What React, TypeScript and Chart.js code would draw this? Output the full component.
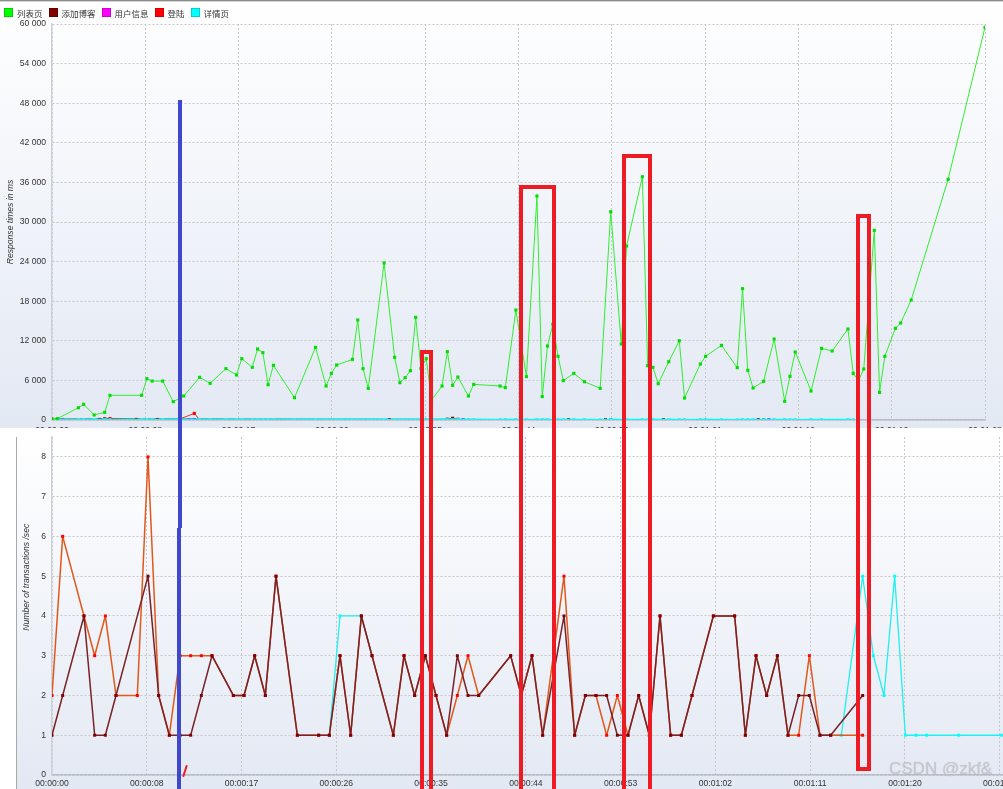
import React, { useEffect, useRef } from 'react';
import { Chart, registerables } from 'chart.js';

Chart.register(...registerables);

// ---------------- Legend ----------------
const SERIES_NAMES = ['列表页', '添加博客', '用户信息', '登陆', '详情页'];
const SERIES_COLORS = ['#00ff00', '#800000', '#ff00ff', '#ff0000', '#00ffff'];

// ---------------- Top chart: response times over time ----------------
const RT_Y_TITLE = 'Response times in ms';
const RT_Y_TICKS = [0, 6000, 12000, 18000, 24000, 30000, 36000, 42000, 48000, 54000, 60000];
const RT_X_STEP = 8.85;
const RT_X_MAX = 88.5;
const RT_X_LABELS = ['00:00:00', '00:00:08', '00:00:17', '00:00:26', '00:00:35', '00:00:44', '00:00:53', '00:01:01', '00:01:10', '00:01:19', '00:01:28'];

// [seconds, ms]
const LIST_RT: [number, number][] = [
  [0, 100], [0.5, 200], [2.5, 1860], [3, 2380], [4, 760], [5, 1160], [5.5, 3740], [8.5, 3740], [9, 6260], [9.5, 5900],
  [10.5, 5900], [11.5, 2780], [12.5, 3640], [14, 6470], [15, 5550], [16.5, 7780], [17.5, 6820], [18, 9290], [19, 7980], [19.5, 10760],
  [20, 10200], [20.5, 5350], [21, 8290], [23, 3380], [25, 11010], [26, 5150], [26.5, 7070], [27, 8330], [28.5, 9190], [29, 15150],
  [29.5, 7780], [30, 4800], [31.5, 23790], [32.5, 9500], [33, 5650], [33.5, 6410], [34, 7470], [34.5, 15560], [35, 7800], [35.5, 9290],
  [36, 3030], [37, 5150], [37.5, 10350], [38, 5250], [38.5, 6510], [39.5, 3640], [40, 5400], [42.5, 5150], [43, 4900], [44, 16660],
  [45, 6570], [46, 33940], [46.5, 3540], [47, 11210], [47.5, 14500], [48, 9650], [48.5, 5960], [49.5, 7070], [50.5, 5800], [52, 4800],
  [53, 31560], [54, 11510], [54.5, 26360], [56, 36860], [56.5, 8230], [57, 7980], [57.5, 5500], [58.5, 8830], [59.5, 12010], [60, 3330],
  [61.5, 8480], [62, 9650], [63.5, 11310], [65, 7930], [65.5, 19900], [66, 7530], [66.5, 4850], [67.5, 5860], [68.5, 12270], [69.5, 2830],
  [70, 6620], [70.5, 10300], [72, 4390], [73, 10860], [74, 10450], [75.5, 13790], [76, 7070], [76.5, 5960], [77, 7730], [78, 28740],
  [78.5, 4190], [79, 9650], [80, 13890], [80.5, 14700], [81.5, 18180], [85, 36460], [88.5, 59490],
];
const BLOG_RT: [number, number][] = [
  [0.5, 120], [5, 180], [37.5, 120], [38, 260], [38.5, 100], [53, 60], [67.5, 60],
];
const USER_RT: [number, number][] = [
  [1, 40], [13, 60], [13.5, 60], [39, 50], [68, 50],
];
const LOGIN_RT: [number, number][] = [
  [0, 150], [4.5, 90], [5.5, 220], [8, 90], [10, 80], [12, 80], [13.5, 1000], [14, 60], [32, 70], [49, 70], [52.5, 70], [58, 70], [67, 70],
];
const DETAIL_RT: [number, number][] = [
  [0, 60], [0.5, 50], [2.5, 40], [3, 50], [4, 60], [5, 50], [5.5, 40], [8.5, 50], [9, 60], [9.5, 40],
  [10.5, 50], [12, 60], [14, 50], [15, 40], [16.5, 50], [17.5, 60], [18, 50], [19, 40], [19.5, 50], [20, 60],
  [20.5, 50], [21, 40], [23, 50], [25, 60], [26, 50], [26.5, 40], [27, 50], [27.5, 60], [28.5, 50], [29, 40],
  [29.5, 50], [30, 60], [31.5, 50], [32.5, 40], [33, 50], [33.5, 60], [34, 50], [34.5, 40], [35.5, 50], [37, 60],
  [37.5, 50], [38, 40], [38.5, 50], [39.5, 60], [40, 50], [42.5, 40], [43, 50], [44, 60], [44.5, 50], [45, 40],
  [46, 50], [46.5, 60], [47, 50], [48, 40], [48.5, 50], [49.5, 60], [50.5, 50], [52, 40], [53, 50], [54.5, 60],
  [56, 50], [56.5, 40], [57, 50], [58.5, 60], [59.5, 50], [60, 40], [61.5, 50], [62, 60], [63.5, 50], [65, 40],
  [65.5, 50], [66, 60], [66.5, 50], [67.5, 40], [68.5, 50], [69.5, 60], [70, 50], [70.5, 40], [72, 50], [73, 60],
  [75.5, 50], [76, 40],
];

// ---------------- Bottom chart: transactions per second ----------------
const TPS_Y_TITLE = 'Number of transactions /sec';
const TPS_Y_TICKS = [0, 1, 2, 3, 4, 5, 6, 7, 8];
const TPS_Y_MAX = 8.5;
const TPS_X_STEP = 8.885;
const TPS_X_MAX = 90;
const TPS_X_LABELS = ['00:00:00', '00:00:08', '00:00:17', '00:00:26', '00:00:35', '00:00:44', '00:00:53', '00:01:02', '00:01:11', '00:01:20', '00:01:28'];

// [seconds, transactions/sec]
const TPS_LOGIN: [number, number][] = [
  [0, 2], [1, 6], [3, 4], [4, 3], [5, 4], [6, 2], [8, 2], [9, 8], [10, 2], [11, 1],
  [12, 3], [13, 3], [14, 3], [15, 3], [17, 2], [18, 2], [19, 3], [20, 2], [21, 5], [23, 1],
  [25, 1], [26, 1], [27, 3], [28, 1], [29, 4], [30, 3], [32, 1], [33, 3], [34, 2], [35, 3],
  [36, 2], [37, 1], [38, 2], [39, 3], [40, 2], [43, 3], [44, 2], [45, 3], [46, 1], [48, 5],
  [49, 1], [50, 2], [51, 2], [52, 1], [53, 2], [54, 1], [55, 2], [56, 1], [57, 4], [58, 1],
  [59, 1], [60, 2], [62, 4], [64, 4], [65, 1], [66, 3], [67, 2], [68, 3], [69, 1], [70, 1],
  [71, 3], [72, 1], [73, 1], [76, 1],
];
const TPS_BLOG: [number, number][] = [
  [0, 1], [1, 2], [3, 4], [4, 1], [5, 1], [6, 2], [9, 5], [10, 2], [11, 1], [12, 1],
  [13, 1], [14, 2], [15, 3], [17, 2], [18, 2], [19, 3], [20, 2], [21, 5], [23, 1], [25, 1],
  [26, 1], [27, 3], [28, 1], [29, 4], [30, 3], [32, 1], [33, 3], [34, 2], [35, 3], [36, 2],
  [37, 1], [38, 3], [39, 2], [40, 2], [43, 3], [44, 2], [45, 3], [46, 1], [48, 4], [49, 1],
  [50, 2], [51, 2], [52, 2], [53, 1], [54, 1], [55, 2], [56, 1], [57, 4], [58, 1], [59, 1],
  [60, 2], [62, 4], [64, 4], [65, 1], [66, 3], [67, 2], [68, 3], [69, 1], [70, 2], [71, 2],
  [72, 1], [73, 1], [76, 2],
];
const TPS_DETAIL: [number, number | null][] = [
  [26, 1], [27, 4], [29, 4], [30, 3], [50, null],
  [72, 1], [73, 1], [74, 1], [76, 5], [77, 3], [78, 2], [79, 5], [80, 1], [81, 1], [82, 1], [85, 1], [89, 1],
];

// ---------------- helpers ----------------
const FONT_FAMILY = '"Liberation Sans", Arial, "Noto Sans CJK SC", sans-serif';
const TICK_FONT = { family: FONT_FAMILY, size: 8.6 };
const TICK_COLOR = '#333333';
const GRID_COLOR = '#c8c8cc';

const toXY = (pts: [number, number | null][]) => pts.map(([x, y]) => ({ x, y }));
const fmtThousands = (v: number) => String(v).replace(/\B(?=(\d{3})+(?!\d))/g, ' ');

const bgPlugin = {
  id: 'panelBg',
  beforeDraw(chart: any) {
    const { ctx, width, height } = chart;
    const g = ctx.createLinearGradient(0, 0, 0, height);
    g.addColorStop(0, '#ffffff');
    g.addColorStop(1, '#e2e8f3');
    ctx.save();
    ctx.fillStyle = g;
    ctx.fillRect(0, 0, width, height);
    ctx.restore();
  },
};

const tpsTitlePlugin = {
  id: 'tpsTitle',
  afterDraw(chart: any) {
    const { ctx, chartArea } = chart;
    ctx.save();
    ctx.translate(10, chartArea.top + (chartArea.bottom - chartArea.top) * 0.415);
    ctx.rotate(-Math.PI / 2);
    ctx.font = `italic 8.6px ${FONT_FAMILY}`;
    ctx.fillStyle = TICK_COLOR;
    ctx.textAlign = 'center';
    ctx.textBaseline = 'middle';
    ctx.fillText(TPS_Y_TITLE, 0, 0);
    ctx.restore();
  },
};

function lineDs(label: string, pts: [number, number | null][], line: string, point: string, width: number, radius: number) {
  return {
    label,
    data: toXY(pts),
    borderColor: line,
    backgroundColor: point,
    pointBackgroundColor: point,
    pointBorderWidth: 0,
    pointStyle: 'rect',
    pointRadius: radius,
    borderWidth: width,
    borderJoinStyle: 'round',
    borderCapStyle: 'round',
    fill: false,
    tension: 0,
    spanGaps: false,
  };
}

export default function App() {
  const topRef = useRef<HTMLCanvasElement | null>(null);
  const botRef = useRef<HTMLCanvasElement | null>(null);

  useEffect(() => {
    const top = new Chart(topRef.current as HTMLCanvasElement, {
      type: 'line',
      data: {
        datasets: [
          lineDs(SERIES_NAMES[0], LIST_RT, '#2ef02e', '#00dd00', 1, 2.2),
          lineDs(SERIES_NAMES[4], DETAIL_RT, SERIES_COLORS[4], '#40e8f0', 1.6, 2.2),
          lineDs(SERIES_NAMES[3], LOGIN_RT, '#f03030', SERIES_COLORS[3], 1, 2.2),
          lineDs(SERIES_NAMES[2], USER_RT, SERIES_COLORS[2], SERIES_COLORS[2], 1, 2.2),
          lineDs(SERIES_NAMES[1], BLOG_RT, '#806060', SERIES_COLORS[1], 1, 2.2),
        ] as any,
      },
      options: {
        animation: false,
        responsive: false,
        maintainAspectRatio: false,
        layout: { padding: { top: 24, right: 18, left: 0, bottom: 0 } },
        plugins: { legend: { display: false }, tooltip: { enabled: false } },
        scales: {
          x: {
            type: 'linear',
            min: 0,
            max: RT_X_MAX,
            afterBuildTicks: (s: any) => { s.ticks = RT_X_LABELS.map((_, i) => ({ value: i * RT_X_STEP })); },
            afterFit: (s: any) => { s.height = 20; s.paddingLeft = 0; s.paddingRight = 0; },
            ticks: { autoSkip: false, maxRotation: 0, minRotation: 0, padding: 5, font: TICK_FONT, color: TICK_COLOR, callback: (_v: any, i: number) => RT_X_LABELS[i] },
            grid: { color: GRID_COLOR, drawTicks: false, lineWidth: 1 },
            border: { display: true, color: '#b8bcc6', width: 1.5, dash: [2, 2] },
          },
          y: {
            type: 'linear',
            min: 0,
            max: 60000,
            afterBuildTicks: (s: any) => { s.ticks = RT_Y_TICKS.map((v) => ({ value: v })); },
            afterFit: (s: any) => { s.width = 52; s.paddingTop = 0; s.paddingBottom = 0; },
            ticks: { padding: 6, font: TICK_FONT, color: TICK_COLOR, callback: (v: any) => fmtThousands(Number(v)) },
            title: { display: true, text: RT_Y_TITLE, color: TICK_COLOR, font: { family: FONT_FAMILY, size: 8.6, style: 'italic' }, padding: { top: 5, bottom: 0 } },
            grid: { color: GRID_COLOR, drawTicks: false, lineWidth: 1 },
            border: { display: true, color: '#cdd1da', width: 1.5, dash: [2, 2] },
          },
        },
      } as any,
      plugins: [bgPlugin] as any,
    });

    const bot = new Chart(botRef.current as HTMLCanvasElement, {
      type: 'line',
      data: {
        datasets: [
          lineDs(SERIES_NAMES[1], TPS_BLOG, '#7a2228', SERIES_COLORS[1], 1.5, 2.1),
          lineDs(SERIES_NAMES[3], TPS_LOGIN, '#e2581a', SERIES_COLORS[3], 1.5, 2.1),
          lineDs(SERIES_NAMES[4], TPS_DETAIL, '#20f0f0', SERIES_COLORS[4], 1.3, 2.1),
        ] as any,
      },
      options: {
        animation: false,
        responsive: false,
        maintainAspectRatio: false,
        layout: { padding: { top: 5, right: 5, left: 0, bottom: 0 } },
        plugins: { legend: { display: false }, tooltip: { enabled: false } },
        scales: {
          x: {
            type: 'linear',
            min: 0,
            max: TPS_X_MAX,
            afterBuildTicks: (s: any) => { s.ticks = TPS_X_LABELS.map((_, i) => ({ value: i * TPS_X_STEP })); },
            afterFit: (s: any) => { s.height = 25; s.paddingLeft = 0; s.paddingRight = 0; },
            ticks: { autoSkip: false, maxRotation: 0, minRotation: 0, padding: 3, font: TICK_FONT, color: TICK_COLOR, callback: (_v: any, i: number) => TPS_X_LABELS[i] },
            grid: { color: GRID_COLOR, drawTicks: false, lineWidth: 1 },
            border: { display: true, color: '#b8bcc6', width: 1.5, dash: [2, 2] },
          },
          y: {
            type: 'linear',
            min: 0,
            max: TPS_Y_MAX,
            afterBuildTicks: (s: any) => { s.ticks = TPS_Y_TICKS.map((v) => ({ value: v })); },
            afterFit: (s: any) => { s.width = 35; s.paddingTop = 0; s.paddingBottom = 0; },
            ticks: { padding: 6, font: TICK_FONT, color: TICK_COLOR },
            grid: { color: GRID_COLOR, drawTicks: false, lineWidth: 1 },
            border: { display: true, color: '#cdd1da', width: 1.5, dash: [2, 2] },
          },
        },
      } as any,
      plugins: [bgPlugin, tpsTitlePlugin] as any,
    });

    return () => {
      top.destroy();
      bot.destroy();
    };
  }, []);

  const redRect = (left: number, top: number, width: number, height: number) => (
    <div style={{ position: 'absolute', left, top, width, height, border: '4px solid #ed1c24', boxSizing: 'border-box' }} />
  );

  return (
    <div style={{ position: 'fixed', left: 0, top: 0, width: 1003, height: 789, overflow: 'hidden', background: '#ffffff' }}>
      {/* top chart panel */}
      <div style={{ position: 'absolute', left: 0, top: 0, width: 1003, height: 428, overflow: 'hidden' }}>
        <canvas ref={topRef} width={1003} height={440} style={{ display: 'block' }} />
      </div>
      <div style={{ position: 'absolute', left: 0, top: 0, width: 1003, height: 1, background: '#8c8c8c' }} />
      <div style={{ position: 'absolute', left: 0, top: 1, width: 1003, height: 1, background: '#d4d4d4' }} />
      {/* legend */}
      <div style={{ position: 'absolute', left: 4, top: 6, display: 'flex', alignItems: 'center', height: 13, fontFamily: '"Noto Sans CJK SC", sans-serif', fontSize: 8.5, color: '#333', whiteSpace: 'nowrap' }}>
        {SERIES_NAMES.map((n, i) => (
          <div key={n} style={{ display: 'flex', alignItems: 'center', marginRight: 6 }}>
            <div style={{ width: 9, height: 9, background: SERIES_COLORS[i], boxShadow: 'inset 0 0 0 0.5px rgba(0,0,0,0.35)', marginRight: 4 }} />
            <span>{n}</span>
          </div>
        ))}
      </div>

      {/* bottom chart panel */}
      <div style={{ position: 'absolute', left: 16, top: 437, width: 1, height: 352, background: '#a9a9a9' }} />
      <div style={{ position: 'absolute', left: 17, top: 432, width: 986, height: 357, overflow: 'hidden' }}>
        <canvas ref={botRef} width={1000} height={368} style={{ display: 'block' }} />
      </div>

      {/* annotations */}
      <div style={{ position: 'absolute', left: 178, top: 100, width: 4, height: 428, background: '#3f48cc' }} />
      <div style={{ position: 'absolute', left: 177, top: 528, width: 4, height: 270, background: '#3f48cc' }} />
      <div style={{ position: 'absolute', left: 184, top: 765, width: 2, height: 12, background: '#ed1c24', transform: 'rotate(18deg)' }} />
      {redRect(420, 350, 13, 460)}
      {redRect(519, 185, 37, 620)}
      {redRect(622, 154, 30, 650)}
      {redRect(856, 214, 15, 557)}

      {/* watermark */}
      <div style={{ position: 'absolute', left: 889, top: 759, fontFamily: FONT_FAMILY, fontSize: 17, color: 'rgba(200,200,205,0.9)', textShadow: '0 0 1px rgba(150,150,150,0.5)', whiteSpace: 'nowrap' }}>CSDN @zkf&amp;</div>
    </div>
  );
}
